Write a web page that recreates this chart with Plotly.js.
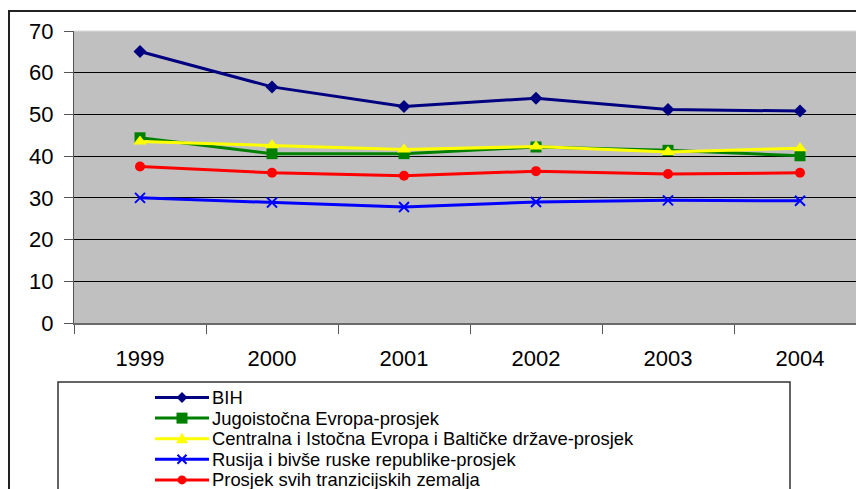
<!DOCTYPE html>
<html><head><meta charset="utf-8">
<script src="https://cdn.plot.ly/plotly-3.0.1.min.js"></script>
<style>html,body{margin:0;padding:0;background:#fff;overflow:hidden}</style>
</head><body><div id="chart" style="width:856px;height:489px"></div>
<script>
// ---- data ----
const years = ['1999', '2000', '2001', '2002', '2003', '2004'];
const seriesNames = [
  'BIH',
  'Jugoistočna Evropa-prosjek',
  'Centralna i Istočna Evropa i Baltičke države-prosjek',
  'Rusija i bivše ruske republike-prosjek',
  'Prosjek svih tranzicijskih zemalja'
];
const bih = [65.1, 56.6, 51.9, 53.9, 51.2, 50.8];
const jugoistocna = [44.4, 40.6, 40.6, 42.2, 41.4, 40.1];
const centralna = [43.5, 42.6, 41.6, 42.3, 41.0, 41.9];
const rusija = [30.0, 28.9, 27.8, 29.0, 29.4, 29.3];
const prosjek = [37.5, 36.0, 35.3, 36.4, 35.7, 36.0];
const yTicks = [0, 10, 20, 30, 40, 50, 60, 70];

// ---- styles ----
const FONT = 'Liberation Sans, Arial, sans-serif';
const colors = ['#000080', '#008000', '#FFFF00', '#0000FF', '#FF0000'];
const symbols = ['diamond', 'square', 'triangle-up', 'x-thin', 'circle'];
const sizes = [10, 11, 12, 10, 10];
const values = [bih, jugoistocna, centralna, rusija, prosjek];

const W = 856, H = 489, L = 74, T = 31, PH = 292;
const PW = W - L;
const CAT = 132;
const px = v => (v - L) / PW;
const py = v => (T + PH - v) / PH;

const traces = values.map((vals, i) => ({
  type: 'scatter', mode: 'lines+markers', name: seriesNames[i],
  x: years, y: vals,
  line: {color: colors[i], width: 3},
  marker: {
    symbol: symbols[i], size: sizes[i], color: colors[i],
    line: symbols[i] === 'x-thin' ? {color: colors[i], width: 2} : {width: 0}
  },
  hoverinfo: 'x+y+name'
}));

const shapes = [
  // outer chart frame
  {type: 'rect', xref: 'paper', yref: 'paper', x0: px(9), x1: px(W + 50), y0: py(11), y1: py(H + 50),
   line: {color: '#222', width: 2}, fillcolor: 'rgba(0,0,0,0)', layer: 'above'},
  // light top edge of plot area
  {type: 'line', xref: 'paper', yref: 'paper', x0: 0, x1: 1, y0: 1, y1: 1,
   line: {color: '#dcdcdc', width: 1}, layer: 'above'},
  // legend box
  {type: 'rect', xref: 'paper', yref: 'paper', x0: px(58), x1: px(790), y0: py(382), y1: py(H + 50),
   line: {color: '#333', width: 1.5}, fillcolor: 'rgba(0,0,0,0)', layer: 'above'}
];
const annotations = [];
const markerPaths = [
  {type: 'path', path: 'M0,-5.5L5.5,0L0,5.5L-5.5,0Z'},
  {type: 'rect', x0: -5.5, x1: 5.5, y0: -5.5, y1: 5.5},
  {type: 'path', path: 'M-6,-4.5L6,-4.5L0,6Z'},
  {type: 'path', path: 'M-4.5,-4.5L4.5,4.5M-4.5,4.5L4.5,-4.5'},
  {type: 'circle', x0: -4.5, x1: 4.5, y0: -4.5, y1: 4.5}
];
const LEG_FONT = 18.4, LEG_STEP = 20.6;
seriesNames.forEach((name, i) => {
  const cy = 397.5 + LEG_STEP * i;
  shapes.push({type: 'line', xref: 'paper', yref: 'paper', x0: px(155), x1: px(209), y0: py(cy), y1: py(cy),
    line: {color: colors[i], width: 3}, layer: 'above'});
  const m = Object.assign({xref: 'paper', yref: 'paper', xsizemode: 'pixel', ysizemode: 'pixel',
    xanchor: px(182), yanchor: py(cy), layer: 'above'}, markerPaths[i]);
  if (i === 3) { m.line = {color: colors[i], width: 2}; m.fillcolor = 'rgba(0,0,0,0)'; }
  else { m.line = {width: 0}; m.fillcolor = colors[i]; }
  shapes.push(m);
  annotations.push({xref: 'paper', yref: 'paper', x: px(211), y: py(cy), xanchor: 'left', yanchor: 'middle',
    text: name, showarrow: false, borderpad: 0, font: {family: FONT, size: LEG_FONT, color: '#000'}});
});

const layout = {
  width: W, height: H,
  margin: {l: L, r: 0, t: T, b: H - T - PH, pad: 0},
  paper_bgcolor: '#fff', plot_bgcolor: '#C0C0C0',
  showlegend: false,
  font: {family: FONT, color: '#000'},
  xaxis: {
    type: 'category', categoryorder: 'array', categoryarray: years,
    range: [-0.5, -0.5 + PW / CAT], tickson: 'boundaries',
    ticks: 'outside', ticklen: 9, tickcolor: '#555', tickwidth: 1,
    showline: true, linecolor: '#6a6a6a', linewidth: 2,
    showgrid: false, zeroline: false, ticklabelstandoff: 15,
    tickfont: {family: FONT, size: 22, color: '#000'}, fixedrange: true
  },
  yaxis: {
    range: [0, 70], tickvals: yTicks, ticktext: yTicks.map(String),
    ticks: 'outside', ticklen: 9, tickcolor: '#555', tickwidth: 1,
    showline: true, linecolor: '#555', linewidth: 1,
    showgrid: true, gridcolor: '#000', gridwidth: 1, zeroline: false, ticklabelstandoff: 6,
    tickfont: {family: FONT, size: 22, color: '#000'}, fixedrange: true
  },
  shapes: shapes,
  annotations: annotations
};

Plotly.newPlot('chart', traces, layout, {displayModeBar: false, staticPlot: true});
</script>
</body></html>
